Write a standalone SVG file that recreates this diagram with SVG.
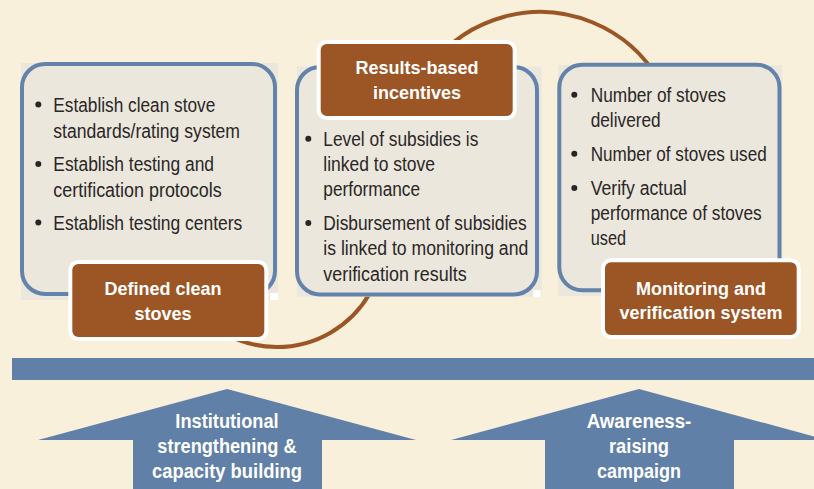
<svg xmlns="http://www.w3.org/2000/svg" width="814" height="489" viewBox="0 0 814 489">
<style>
.bg{fill:#f9f0db}
.sq{fill:#ebe7dc}
.box{fill:#ebe7dc;stroke:#6383ab;stroke-width:4}
.lbl{fill:#9c5626;stroke:#ffffff;stroke-width:4}
.lt{font-family:"Liberation Sans",Arial,sans-serif;font-weight:bold;font-size:18px;fill:#ffffff;text-anchor:middle}
.bt{font-family:"Liberation Sans",Arial,sans-serif;font-size:20px;fill:#2a2627}
.dot{fill:#2a2627}
.arc{fill:none;stroke:#9c5626;stroke-width:4}
.blue{fill:#6180a8}
.at{font-family:"Liberation Sans",Arial,sans-serif;font-weight:bold;font-size:20px;fill:#ffffff;text-anchor:middle}
.wsq{fill:#ffffff}
</style>
<rect class="bg" x="0" y="0" width="814" height="489"/>

<g id="connectors">
<path class="arc" d="M 223.5 332.7 A 107 107 0 0 0 384 240"/>
<path class="arc" d="M 402 150 A 138 138 0 0 1 659.5 81"/>
</g>

<g id="box-defined">
<rect class="sq" x="21" y="63" width="257" height="237"/>
<rect class="wsq" x="270" y="293" width="8" height="7"/>
<rect class="box" x="22" y="64" width="253" height="230" rx="23"/>
<circle class="dot" cx="38.3" cy="104.5" r="3"/>
<text class="bt" x="53.3" y="111.7" textLength="162" lengthAdjust="spacingAndGlyphs">Establish clean stove</text>
<text class="bt" x="53.3" y="137.7" textLength="186.7" lengthAdjust="spacingAndGlyphs">standards/rating system</text>
<circle class="dot" cx="38.3" cy="164" r="3"/>
<text class="bt" x="53.3" y="171.3" textLength="160.7" lengthAdjust="spacingAndGlyphs">Establish testing and</text>
<text class="bt" x="53.3" y="196.7" textLength="168.4" lengthAdjust="spacingAndGlyphs">certification protocols</text>
<circle class="dot" cx="38.3" cy="222.5" r="3"/>
<text class="bt" x="53.3" y="230" textLength="189" lengthAdjust="spacingAndGlyphs">Establish testing centers</text>
</g>

<g id="label-defined">
<rect class="lbl" x="70.3" y="262" width="196" height="77" rx="8"/>
<text class="lt" x="163" y="295">Defined clean</text>
<text class="lt" x="163" y="320">stoves</text>
</g>

<g id="box-results">
<rect class="sq" x="297" y="66.7" width="244.7" height="230"/>
<rect class="wsq" x="533" y="290" width="7.5" height="7"/>
<rect class="box" x="297" y="67" width="240" height="227.5" rx="23"/>
<circle class="dot" cx="308.3" cy="138.7" r="3"/>
<text class="bt" x="323.3" y="145.7" textLength="155" lengthAdjust="spacingAndGlyphs">Level of subsidies is</text>
<text class="bt" x="323.3" y="170.7" textLength="111.7" lengthAdjust="spacingAndGlyphs">linked to stove</text>
<text class="bt" x="323.3" y="195.7" textLength="96.7" lengthAdjust="spacingAndGlyphs">performance</text>
<circle class="dot" cx="308.3" cy="223" r="3"/>
<text class="bt" x="323.3" y="230" textLength="203.3" lengthAdjust="spacingAndGlyphs">Disbursement of subsidies</text>
<text class="bt" x="323.3" y="255.3" textLength="205" lengthAdjust="spacingAndGlyphs">is linked to monitoring and</text>
<text class="bt" x="323.3" y="280.7" textLength="143.3" lengthAdjust="spacingAndGlyphs">verification results</text>
</g>

<g id="label-results">
<rect class="lbl" x="318.7" y="42" width="196" height="76" rx="8"/>
<text class="lt" x="417" y="74">Results-based</text>
<text class="lt" x="417" y="99.3">incentives</text>
</g>

<g id="box-monitoring">
<rect class="sq" x="558.3" y="65" width="224" height="231"/>
<rect class="box" x="559.3" y="64.7" width="220.2" height="225.6" rx="23"/>
<circle class="dot" cx="574.3" cy="94.7" r="3"/>
<text class="bt" x="590.7" y="101.7" textLength="135.3" lengthAdjust="spacingAndGlyphs">Number of stoves</text>
<text class="bt" x="590.7" y="126.7" textLength="70" lengthAdjust="spacingAndGlyphs">delivered</text>
<circle class="dot" cx="574.3" cy="153.7" r="3"/>
<text class="bt" x="590.7" y="160.7" textLength="176" lengthAdjust="spacingAndGlyphs">Number of stoves used</text>
<circle class="dot" cx="574.3" cy="188" r="3"/>
<text class="bt" x="590.7" y="195" textLength="96" lengthAdjust="spacingAndGlyphs">Verify actual</text>
<text class="bt" x="590.7" y="220" textLength="171" lengthAdjust="spacingAndGlyphs">performance of stoves</text>
<text class="bt" x="590.7" y="244.5" textLength="35.3" lengthAdjust="spacingAndGlyphs">used</text>
</g>

<g id="label-monitoring">
<rect class="lbl" x="603" y="260.3" width="195.7" height="76.7" rx="8"/>
<text class="lt" x="701" y="295">Monitoring and</text>
<text class="lt" x="701" y="319.3">verification system</text>
</g>

<g id="bar">
<rect class="blue" x="12" y="358" width="802" height="22"/>
</g>

<g id="arrow-institutional">
<polygon class="blue" points="227,389 416,440 322,440 322,489 133,489 133,440 38,440"/>
<text class="at" x="227" y="428" textLength="103.3" lengthAdjust="spacingAndGlyphs">Institutional</text>
<text class="at" x="227" y="453" textLength="139.3" lengthAdjust="spacingAndGlyphs">strengthening &amp;</text>
<text class="at" x="227" y="478" textLength="150" lengthAdjust="spacingAndGlyphs">capacity building</text>
</g>

<g id="arrow-awareness">
<polygon class="blue" points="639,389 827,440 734,440 734,489 545,489 545,440 451,440"/>
<text class="at" x="639" y="428" textLength="104.7" lengthAdjust="spacingAndGlyphs">Awareness-</text>
<text class="at" x="639" y="453" textLength="60" lengthAdjust="spacingAndGlyphs">raising</text>
<text class="at" x="639" y="478" textLength="84" lengthAdjust="spacingAndGlyphs">campaign</text>
</g>
</svg>
